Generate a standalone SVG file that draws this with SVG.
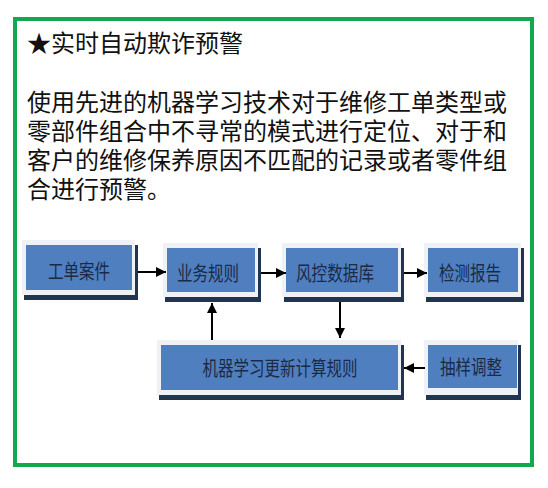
<svg xmlns="http://www.w3.org/2000/svg" width="548" height="488" viewBox="0 0 548 488">
<style>
.txt{font-family:"Liberation Sans","Noto Sans CJK SC",sans-serif;font-size:24px;fill:#111}
.lbl{font-family:"Liberation Sans","Noto Sans CJK SC",sans-serif;font-size:20px;fill:#1B2A47;text-anchor:middle}
.frame{fill:#EEF1F5}
.shadow{fill:#1F3552}
.blue{fill:#4F7FBF}
.conn{stroke:#000;stroke-width:2;fill:none;marker-end:url(#ah)}
</style>
<defs>
<marker id="ah" viewBox="0 0 10 10" refX="10" refY="5" markerWidth="5" markerHeight="5" orient="auto" markerUnits="strokeWidth">
<path d="M0,0 L10,5 L0,10 Z" fill="#000"/>
</marker>
</defs>
<rect x="0" y="0" width="548" height="488" fill="#fff"/>
<rect x="15" y="19" width="517" height="446" fill="none" stroke="#12A84E" stroke-width="4"/>
<g id="title">
<text class="txt" x="27" y="52">★实时自动欺诈预警</text>
</g>
<g id="paragraph">
<text class="txt" x="27" y="111">使用先进的机器学习技术对于维修工单类型或</text>
<text class="txt" x="27" y="140">零部件组合中不寻常的模式进行定位、对于和</text>
<text class="txt" x="27" y="169">客户的维修保养原因不匹配的记录或者零件组</text>
<text class="txt" x="27" y="198">合进行预警。</text>
</g>
<g id="n1">
<rect class="shadow" x="24" y="245" width="114" height="55"/>
<rect class="frame" x="22" y="240" width="113" height="55"/>
<rect class="blue" x="26" y="245" width="106" height="45"/>
<text class="lbl" x="79" y="279" textLength="62" lengthAdjust="spacingAndGlyphs">工单案件</text>
</g>
<g id="n2">
<rect class="shadow" x="165" y="248" width="96" height="54"/>
<rect class="frame" x="163" y="243" width="95" height="54"/>
<rect class="blue" x="167" y="248" width="88" height="44"/>
<text class="lbl" x="208" y="281" textLength="62" lengthAdjust="spacingAndGlyphs">业务规则</text>
</g>
<g id="n3">
<rect class="shadow" x="284" y="248" width="120" height="54"/>
<rect class="frame" x="282" y="243" width="119" height="54"/>
<rect class="blue" x="286" y="248" width="112" height="44"/>
<text class="lbl" x="335" y="281" textLength="78" lengthAdjust="spacingAndGlyphs">风控数据库</text>
</g>
<g id="n4">
<rect class="shadow" x="426" y="248" width="98" height="54"/>
<rect class="frame" x="424" y="243" width="97" height="54"/>
<rect class="blue" x="428" y="248" width="90" height="44"/>
<text class="lbl" x="470" y="281" textLength="62" lengthAdjust="spacingAndGlyphs">检测报告</text>
</g>
<g id="n5">
<rect class="shadow" x="159" y="345" width="245" height="55"/>
<rect class="frame" x="157" y="340" width="244" height="55"/>
<rect class="blue" x="161" y="345" width="237" height="45"/>
<text class="lbl" x="280" y="376" textLength="155" lengthAdjust="spacingAndGlyphs">机器学习更新计算规则</text>
</g>
<g id="n6">
<rect class="shadow" x="426" y="345" width="95" height="55"/>
<rect class="frame" x="424" y="340" width="94" height="55"/>
<rect class="blue" x="428" y="345" width="89" height="43"/>
<text class="lbl" x="471" y="375" textLength="62" lengthAdjust="spacingAndGlyphs">抽样调整</text>
</g>
<g id="connectors">
<line class="conn" x1="138" y1="272" x2="166" y2="272"/>
<line class="conn" x1="261" y1="273" x2="286" y2="273"/>
<line class="conn" x1="404" y1="273" x2="427" y2="273"/>
<line class="conn" x1="212" y1="340" x2="212" y2="303"/>
<line class="conn" x1="340" y1="302" x2="340" y2="338"/>
<line class="conn" x1="425" y1="368" x2="404" y2="368"/>
</g>
</svg>
